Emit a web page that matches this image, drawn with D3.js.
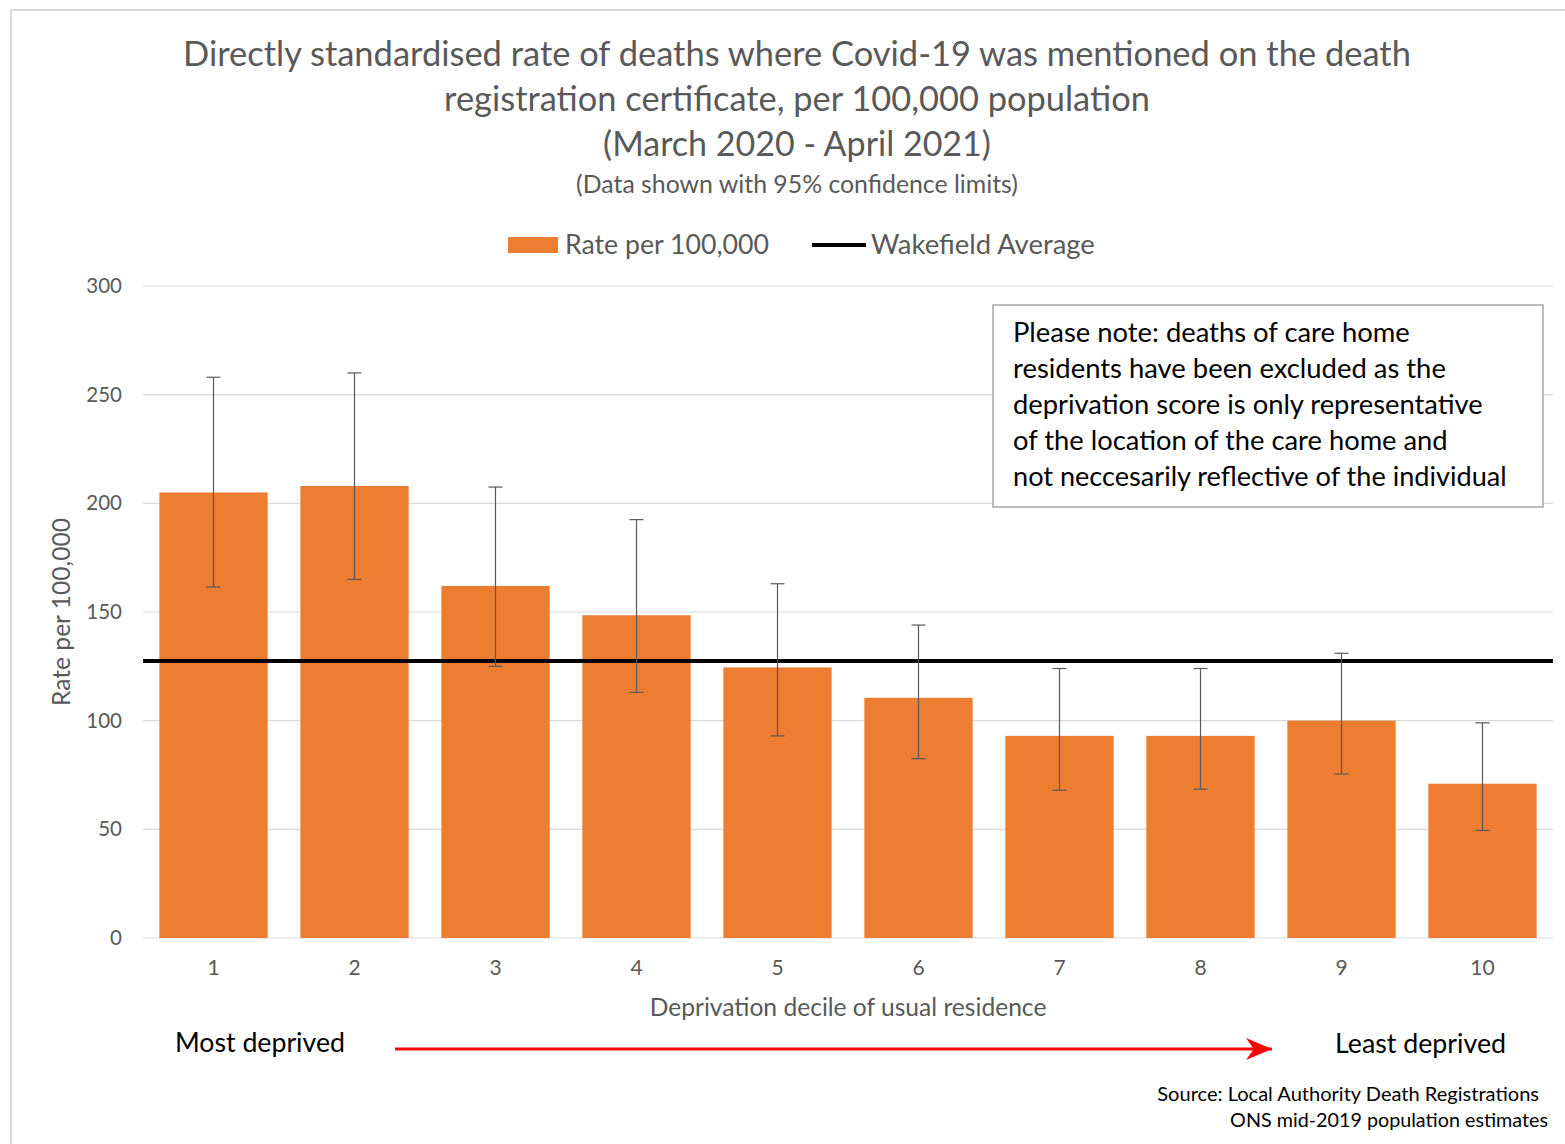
<!DOCTYPE html>
<html><head><meta charset="utf-8">
<script src="https://cdn.jsdelivr.net/npm/d3@7"></script>
<style>body{margin:0;background:#fff;} svg{display:block;font-family:Lato,"Open Sans",sans-serif;}</style>
</head><body>
<script>
const deciles = ["1","2","3","4","5","6","7","8","9","10"];
const rates = [205, 208, 162, 148.5, 124.5, 110.5, 93, 93, 100, 71];
const lowerCL = [161.5, 165, 125, 113, 93, 82.5, 68, 68.5, 75.5, 49.5];
const upperCL = [258, 260, 207.5, 192.5, 163, 144, 124, 124, 131, 99];
const wakefieldAverage = 127.5;
const yTicks = [0, 50, 100, 150, 200, 250, 300];
const titleLines = ["Directly standardised rate of deaths where Covid-19 was mentioned on the death",
  "registration certificate, per 100,000 population", "(March 2020 - April 2021)"];
const noteLines = ["Please note: deaths of care home", "residents have been excluded as the",
  "deprivation score is only representative", "of the location of the care home and",
  "not neccesarily reflective of the individual"];

const W = 1565, H = 1144;
const svg = d3.select("body").append("svg").attr("width", W).attr("height", H);

// outer border
svg.append("rect").attr("x", 11).attr("y", 10).attr("width", W).attr("height", H)
  .attr("fill", "none").attr("stroke", "#d9d9d9").attr("stroke-width", 2);

function fit(t, w) {
  const n = t.node(); const cur = n.getComputedTextLength();
  const fs = parseFloat(t.attr("font-size"));
  t.attr("font-size", fs * w / cur);
  return t;
}

// Title
const tcol = "#595959";
const tl = [[titleLines[0], 66, 1228], [titleLines[1], 111, 706], [titleLines[2], 156, 388]];
tl.forEach(([s, y, w]) => {
  fit(svg.append("text").attr("x", 797).attr("y", y).attr("text-anchor", "middle")
    .attr("font-size", 30).attr("fill", tcol).text(s), w);
});
fit(svg.append("text").attr("x", 797).attr("y", 193).attr("text-anchor", "middle")
  .attr("font-size", 21).attr("fill", tcol).text("(Data shown with 95% confidence limits)"), 442);

// Legend
svg.append("rect").attr("x", 508).attr("y", 237).attr("width", 50).attr("height", 16).attr("fill", "#ED7D31");
fit(svg.append("text").attr("x", 565).attr("y", 254).attr("font-size", 24).attr("fill", tcol).text("Rate per 100,000"), 204);
svg.append("line").attr("x1", 812).attr("x2", 866).attr("y1", 245).attr("y2", 245).attr("stroke", "#000").attr("stroke-width", 4);
fit(svg.append("text").attr("x", 871).attr("y", 254).attr("font-size", 24).attr("fill", tcol).text("Wakefield Average"), 224);

// Scales
const x = d3.scaleBand().domain(deciles).range([143, 1553]).paddingInner(0.232).paddingOuter(0.116);
const y = d3.scaleLinear().domain([0, 300]).range([938, 286]);

// grid
svg.append("g").selectAll("line").data(yTicks).join("line")
  .attr("x1", 143).attr("x2", 1553).attr("y1", d => y(d)).attr("y2", d => y(d))
  .attr("stroke", "#d9d9d9").attr("stroke-width", 1.2);

// y axis labels
const yAxis = svg.append("g").attr("transform", "translate(143,0)")
  .call(d3.axisLeft(y).tickValues(yTicks).tickSize(0).tickPadding(21));
yAxis.select(".domain").remove();
yAxis.selectAll("text").attr("font-size", 20.5).attr("fill", tcol).attr("font-family", "Lato, sans-serif");

// y title
fit(svg.append("text").attr("transform", "translate(70,612) rotate(-90)").attr("text-anchor", "middle")
  .attr("font-size", 21).attr("fill", tcol).text("Rate per 100,000"), 188);

// bars
svg.append("g").selectAll("rect").data(deciles).join("rect")
  .attr("x", d => x(d)).attr("width", x.bandwidth())
  .attr("y", (d, i) => y(rates[i])).attr("height", (d, i) => y(0) - y(rates[i]))
  .attr("fill", "#ED7D31");

// average line
svg.append("line").attr("x1", 143).attr("x2", 1553).attr("y1", y(wakefieldAverage)).attr("y2", y(wakefieldAverage))
  .attr("stroke", "#000").attr("stroke-width", 4);

// error bars
const eb = svg.append("g").attr("stroke", "#595959").attr("stroke-width", 1.2);
deciles.forEach((d, i) => {
  const cx = x(d) + x.bandwidth() / 2;
  eb.append("line").attr("x1", cx).attr("x2", cx).attr("y1", y(upperCL[i])).attr("y2", y(lowerCL[i]));
  eb.append("line").attr("x1", cx - 7).attr("x2", cx + 7).attr("y1", y(upperCL[i])).attr("y2", y(upperCL[i]));
  eb.append("line").attr("x1", cx - 7).attr("x2", cx + 7).attr("y1", y(lowerCL[i])).attr("y2", y(lowerCL[i]));
});

// x axis labels
const xAxis = svg.append("g").attr("transform", "translate(0,938)")
  .call(d3.axisBottom(x).tickSize(0).tickPadding(22));
xAxis.select(".domain").remove();
xAxis.selectAll("text").attr("font-size", 21).attr("fill", tcol).attr("font-family", "Lato, sans-serif");

fit(svg.append("text").attr("x", 848).attr("y", 1016).attr("text-anchor", "middle")
  .attr("font-size", 22).attr("fill", tcol).text("Deprivation decile of usual residence"), 397);

// note box
svg.append("rect").attr("x", 993).attr("y", 305).attr("width", 550).attr("height", 202)
  .attr("fill", "#fff").attr("stroke", "#a6a6a6").attr("stroke-width", 1.5);
const noteW = [397, 433, 470, 435, 494];
noteLines.forEach((s, i) => {
  fit(svg.append("text").attr("x", 1013).attr("y", 342 + i * 36).attr("font-size", 24).attr("fill", "#000").text(s), noteW[i]);
});

// deprivation arrow
fit(svg.append("text").attr("x", 175).attr("y", 1052).attr("font-size", 25).attr("fill", "#000").text("Most deprived"), 170);
fit(svg.append("text").attr("x", 1335).attr("y", 1053).attr("font-size", 25).attr("fill", "#000").text("Least deprived"), 171);
svg.append("defs").append("marker").attr("id", "ah").attr("viewBox", "0 0 10 10").attr("refX", 10).attr("refY", 5)
  .attr("markerWidth", 26).attr("markerHeight", 22).attr("markerUnits", "userSpaceOnUse").attr("orient", "auto")
  .attr("preserveAspectRatio", "none")
  .append("path").attr("d", "M0,0 L10,5 L0,10 L3,5 Z").attr("fill", "#ff0000");
svg.append("line").attr("x1", 395).attr("x2", 1272).attr("y1", 1049).attr("y2", 1049)
  .attr("stroke", "#ff0000").attr("stroke-width", 3).attr("marker-end", "url(#ah)");

// source
fit(svg.append("text").attr("x", 1539).attr("y", 1101).attr("text-anchor", "end").attr("font-size", 19).attr("fill", "#000")
  .text("Source: Local Authority Death Registrations"), 382);
fit(svg.append("text").attr("x", 1548).attr("y", 1127).attr("text-anchor", "end").attr("font-size", 19).attr("fill", "#000")
  .text("ONS mid-2019 population estimates"), 318);
</script>
</body></html>
